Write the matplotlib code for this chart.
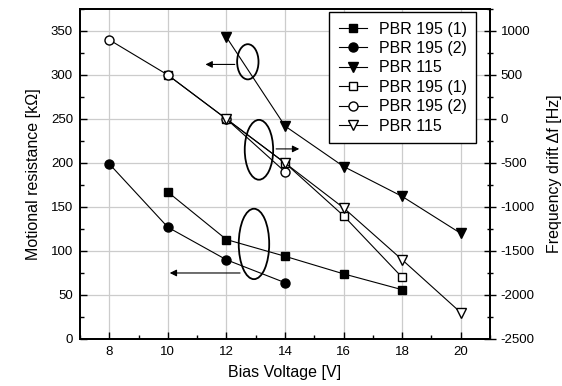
import matplotlib.pyplot as plt
from matplotlib.patches import Ellipse
from matplotlib.ticker import MultipleLocator

plt.rcParams['font.family'] = ['Liberation Sans', 'DejaVu Sans']
plt.rcParams['axes.unicode_minus'] = False

# motional resistance [kOhm], left axis
v_sq1 = [10, 12, 14, 16, 18]
r_sq1 = [167, 113, 94, 74, 56]
v_ci1 = [8, 10, 12, 14]
r_ci1 = [199, 127, 90, 64]
v_tr1 = [12, 14, 16, 18, 20]
r_tr1 = [343, 242, 196, 162, 120]

# frequency drift [Hz], right axis
v_sq2 = [10, 12, 14, 16, 18]
f_sq2 = [500, 0, -500, -1100, -1800]
v_ci2 = [8, 10, 12, 14]
f_ci2 = [900, 500, 0, -600]
v_tr2 = [12, 14, 16, 18, 20]
f_tr2 = [0, -500, -1010, -1600, -2200]

labels = ["PBR 195 (1)", "PBR 195 (2)", "PBR 115"]

fig = plt.figure(figsize=(5.62, 3.86), dpi=100)
ax = fig.add_axes([0.1423, 0.1218, 0.7297, 0.8549])
ax2 = ax.twinx()

line = dict(color='black', lw=0.8, zorder=3)
h1, = ax.plot(v_sq1, r_sq1, marker='s', ms=6, **line)
h2, = ax.plot(v_ci1, r_ci1, marker='o', ms=6.5, **line)
h3, = ax.plot(v_tr1, r_tr1, marker='v', ms=6.5, **line)
h4, = ax2.plot(v_sq2, f_sq2, marker='s', ms=6, mfc='white', **line)
h5, = ax2.plot(v_ci2, f_ci2, marker='o', ms=6.5, mfc='white', **line)
h6, = ax2.plot(v_tr2, f_tr2, marker='v', ms=6.5, mfc='white', **line)

ax.set_xlim(7, 21)
ax.set_ylim(0, 375)
ax2.set_ylim(-2500, 1250)

ax.xaxis.set_major_locator(MultipleLocator(2))
ax.xaxis.set_minor_locator(MultipleLocator(1))
ax.yaxis.set_major_locator(MultipleLocator(50))
ax.yaxis.set_minor_locator(MultipleLocator(25))
ax2.yaxis.set_major_locator(MultipleLocator(500))
ax2.yaxis.set_minor_locator(MultipleLocator(250))

ax.grid(True, which='major', color='#cccccc', lw=0.9)
ax.set_axisbelow(True)
ax.tick_params(which='both', direction='in', labelsize=9.5, top=False)
ax.tick_params(which='major', length=5, width=1, pad=5)
ax.tick_params(which='minor', length=3, width=1)
ax2.tick_params(which='both', direction='inout', labelsize=9.5)
ax2.tick_params(which='major', length=8, width=1)
ax2.tick_params(which='minor', length=5, width=1)
for a in (ax, ax2):
    for s in a.spines.values():
        s.set_linewidth(1.3)

ax.set_xlabel("Bias Voltage [V]", fontsize=11.5, labelpad=5)
ax.set_ylabel("Motional resistance [k\u03a9]", fontsize=11.5, labelpad=7)
ax2.set_ylabel("Frequency drift \u0394f [Hz]", fontsize=11.5, labelpad=9)

# ellipses with arrows pointing to the relevant axis
for cx, cy, w, h in [(12.73, 315, 0.73, 40), (13.11, 215, 0.97, 68), (12.94, 108, 1.04, 80)]:
    ax.add_patch(Ellipse((cx, cy), w, h, fill=False, ec='black', lw=1.3, zorder=4))
arr = dict(arrowstyle='-|>', color='black', lw=0.8, mutation_scale=10)
ax.annotate('', xy=(11.19, 312), xytext=(12.38, 312), arrowprops=arr)
ax.annotate('', xy=(14.58, 216), xytext=(13.6, 216), arrowprops=arr)
ax.annotate('', xy=(9.97, 75), xytext=(12.56, 75), arrowprops=arr)

leg = ax2.legend([h1, h2, h3, h4, h5, h6], labels * 2, loc='upper right',
                 bbox_to_anchor=(0.966, 0.991), borderaxespad=0,
                 fontsize=11.5, numpoints=1,
                 fancybox=False, framealpha=1, edgecolor='black',
                 handlelength=1.8, handletextpad=0.7, labelspacing=0.28,
                 borderpad=0.6)
leg.get_frame().set_linewidth(1.0)

fig.savefig("out.png", dpi=100)
